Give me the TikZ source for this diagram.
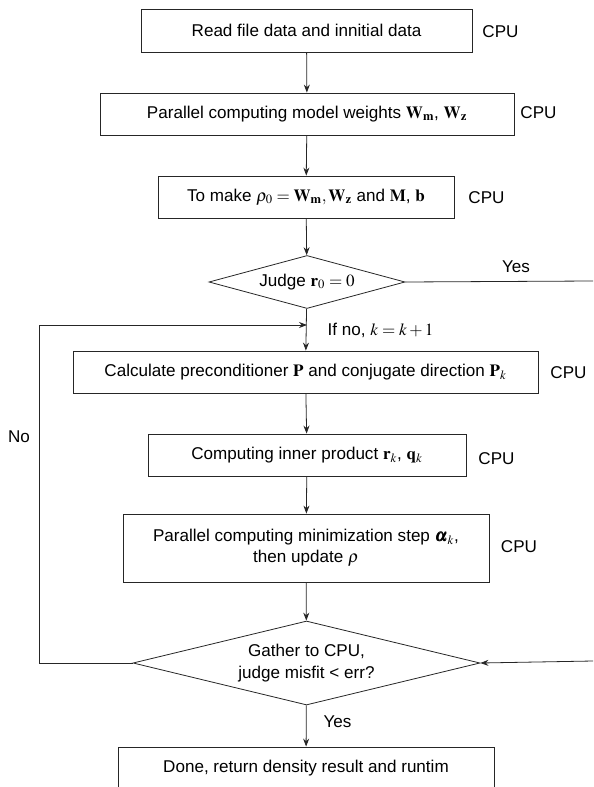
\documentclass[tikz,border=0pt]{standalone}
\usepackage{mathptmx}
\usepackage{bm}
\usepackage{fontspec}
\setmainfont{Liberation Sans}
\usetikzlibrary{shapes.geometric, arrows.meta}

\begin{document}
\begin{tikzpicture}[x=0.75pt, y=-0.75pt,
        every node/.style={font=\fontsize{12.8}{15}\selectfont},
        process/.style={rectangle, draw=black!85, line width=0.6pt, inner sep=2pt, align=center},
        decision/.style={diamond, draw=black!85, line width=0.6pt, inner sep=0pt, align=center},
        link/.style={draw=black!85, line width=0.6pt, -{Stealth[length=6pt, width=4.5pt]}},
        wire/.style={draw=black!85, line width=0.6pt},]

        \useasboundingbox (0,0) rectangle (593,787);

        % Steps
        \node[process, minimum width=248.25pt, minimum height=32.25pt] (read) at (306.5,30.5) {Read file data and innitial data};
        \node[process, minimum width=310.5pt, minimum height=31.5pt] (weights) at (307,114) {Parallel computing model weights $\mathbf{W}_{\mathbf{m}}$, $\mathbf{W}_{\mathbf{z}}$};
        \node[process, minimum width=222pt, minimum height=31.5pt] (init) at (306,197) {To make $\rho_0 = \mathbf{W}_{\mathbf{m}}, \mathbf{W}_{\mathbf{z}}$ and $\mathbf{M}$, $\mathbf{b}$};
        \node[decision, minimum width=147pt, minimum height=39.75pt, aspect=3.7] (judge0) at (307,282) {Judge $\mathbf{r}_0 = 0$};
        \node[process, minimum width=348.75pt, minimum height=31.5pt] (precond) at (305.5,372) {Calculate preconditioner $\mathbf{P}$ and conjugate direction $\mathbf{P}_k$};
        \node[process, minimum width=238.5pt, minimum height=31.5pt] (inner) at (307,455) {Computing inner product $\mathbf{r}_k$, $\mathbf{q}_k$};
        \node[process, minimum width=274.5pt, minimum height=51pt] (update) at (306,548) {Parallel computing minimization step $\bm{\alpha}_k$,\\[1pt] then update $\rho$};
        \node[decision, minimum width=260.25pt, minimum height=63pt, aspect=4.13] (misfit) at (306.5,663) {Gather to CPU,\\[1pt] judge misfit < err?};
        \node[process, minimum width=282pt, minimum height=31.5pt] (done) at (306,768) {Done, return density result and runtim};

        % Device labels
        \node (cpu1) at (500.5,32)  {CPU};
        \node (cpu2) at (538.5,113) {CPU};
        \node (cpu3) at (486.5,198) {CPU};
        \node (cpu4) at (568.5,373) {CPU};
        \node (cpu5) at (496.5,459) {CPU};
        \node (cpu6) at (519,547)   {CPU};

        % Free ends and joins
        \coordinate (join) at (307,325);
        \coordinate (yesend) at (593,281);
        \coordinate (rightin) at (593,661);

        % Links
        \draw[link] (read) -- (weights);
        \draw[link] (weights) -- (init);
        \draw[link] (init) -- (judge0);
        \draw[link] (judge0) -- (precond);
        \draw[link] (precond) -- (inner);
        \draw[link] (inner) -- (update);
        \draw[link] (update) -- (misfit);
        \draw[link] (misfit) -- (done);
        \draw[wire] (judge0.east) -- (yesend);
        \draw[link] (rightin) -- (misfit.east);
        \draw[link] (misfit.west) -- ++(-93,0) |- (join);

        % Branch labels
        \node (yes0) at (516,267) {Yes};
        \node[anchor=west] (ifno) at (323,330) {If no, $k = k + 1$};
        \node (no) at (19,437) {No};
        \node (yes1) at (337.5,722) {Yes};
    \end{tikzpicture}
\end{document}
